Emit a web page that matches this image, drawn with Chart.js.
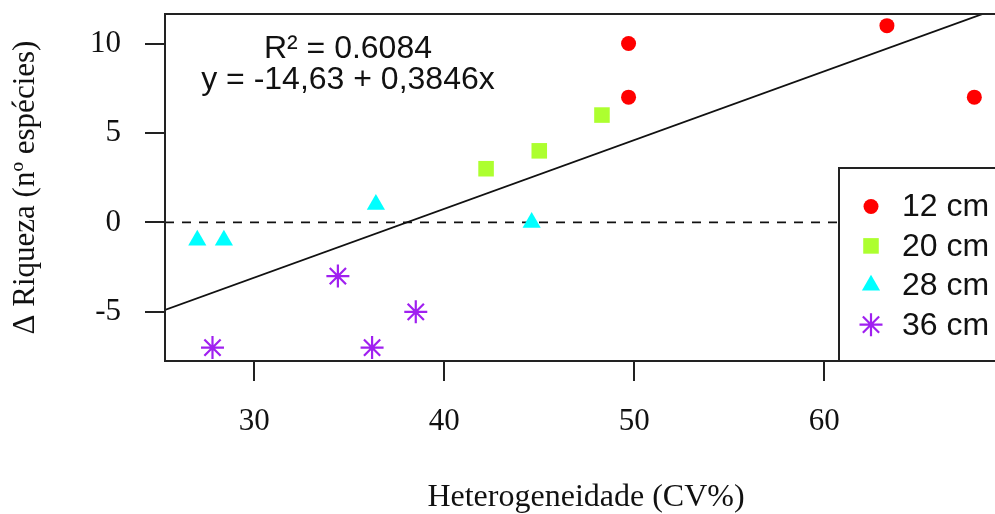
<!DOCTYPE html>
<html><head><meta charset="utf-8">
<script src="https://cdn.jsdelivr.net/npm/chart.js@4"></script>
<style>
html,body{margin:0;padding:0;overflow:hidden;background:#fff;width:995px;height:514px}
#wrap{position:absolute;left:0;top:0;width:1010px;height:514px}
canvas{display:block}
</style>
</head><body><div id="wrap"><canvas id="c" width="1010" height="514" style="width:1010px;height:514px"></canvas></div>
<script>
// ---- data ----
const seriesLabels = ['12 cm', '20 cm', '28 cm', '36 cm'];
const x12 = [49.7, 49.7, 63.3, 67.9];
const y12 = [10, 7, 11, 7];
const x20 = [42.2, 45.0, 48.3];
const y20 = [3, 4, 6];
const x28 = [27.0, 28.4, 36.4, 44.6];
const y28 = [-1, -1, 1, 0];
const x36 = [27.8, 34.4, 36.2, 38.5];
const y36 = [-7, -3, -7, -5];
const xTicks = [30, 40, 50, 60];
const yTicks = [-5, 0, 5, 10];
const fitIntercept = -14.63;
const fitSlope = 0.3846;
const r2Text = 'R\u00B2 = 0.6084';
const eqText = 'y = -14,63 + 0,3846x';
const xTitle = 'Heterogeneidade (CV%)';
const yTitle = '\u0394 Riqueza (n\u00BA esp\u00E9cies)';

// ---- styling / layout ----
const X_MIN = 25.3, X_MAX = 69.62, Y_MIN = -7.75, Y_MAX = 11.65;
const AREA = {left: 165, top: 14, right: 1007, bottom: 361};
const colors = ['#FF0000', '#ADFF2F', '#00FFFF', '#A020F0'];
const styles = ['circle', 'rect', 'triangle', 'star'];
const radii = [7.5, 11, 10.5, 11.5];
const serif = "'Liberation Serif','Times New Roman',serif";
const sans = "'Liberation Sans',Arial,sans-serif";

const pts = (xs, ys) => xs.map((v, i) => ({x: v, y: ys[i]}));
const seriesX = [x12, x20, x28, x36];
const seriesY = [y12, y20, y28, y36];

const scatterSets = seriesLabels.map((lab, i) => ({
  type: 'scatter',
  label: lab,
  data: pts(seriesX[i], seriesY[i]),
  pointStyle: styles[i],
  pointRadius: radii[i],
  pointHoverRadius: radii[i],
  backgroundColor: colors[i],
  borderColor: colors[i],
  borderWidth: styles[i] === 'star' ? 2.2 : 0,
  order: 1
}));

const fitLine = {
  type: 'line',
  label: 'fit',
  data: [X_MIN, X_MAX].map(v => ({x: v, y: fitIntercept + fitSlope * v})),
  borderColor: '#111',
  borderWidth: 1.8,
  pointRadius: 0,
  fill: false,
  order: 2
};
const zeroLine = {
  type: 'line',
  label: 'zero',
  data: [{x: X_MIN, y: 0}, {x: X_MAX, y: 0}],
  borderColor: '#111',
  borderWidth: 1.8,
  borderDash: [9, 8],
  pointRadius: 0,
  fill: false,
  order: 2
};

const ANNOT_X = 34.93, R2_Y = 9.18, EQ_Y = 7.47;

function drawMarker(ctx, style, r, x, y) {
  ctx.beginPath();
  if (style === 'circle') {
    ctx.arc(x, y, r, 0, Math.PI * 2); ctx.fill();
  } else if (style === 'rect') {
    const s = Math.SQRT1_2 * r; ctx.fillRect(x - s, y - s, 2 * s, 2 * s);
  } else if (style === 'triangle') {
    for (let k = 0; k < 3; k++) {
      const ang = k * 2 * Math.PI / 3;
      const px = x + Math.sin(ang) * r, py = y - Math.cos(ang) * r;
      k ? ctx.lineTo(px, py) : ctx.moveTo(px, py);
    }
    ctx.closePath(); ctx.fill();
  } else {
    for (let k = 0; k < 4; k++) {
      const ang = k * Math.PI / 4;
      ctx.moveTo(x - Math.cos(ang) * r, y - Math.sin(ang) * r);
      ctx.lineTo(x + Math.cos(ang) * r, y + Math.sin(ang) * r);
    }
    ctx.stroke();
  }
}

// force the plotting region to the reference's frame (right edge lies past the window)
const pinArea = {
  id: 'pinArea',
  afterLayout(chart) {
    const a = chart.chartArea;
    Object.assign(a, AREA);
    a.width = AREA.right - AREA.left;
    a.height = AREA.bottom - AREA.top;
    const sx = chart.scales.x, sy = chart.scales.y;
    sx.left = AREA.left; sx.right = AREA.right; sx.width = AREA.right - AREA.left;
    sx.top = AREA.bottom; sx.bottom = 514; sx.height = 514 - AREA.bottom;
    sy.top = AREA.top; sy.bottom = AREA.bottom; sy.height = AREA.bottom - AREA.top;
    sy.left = 0; sy.right = AREA.left; sy.width = AREA.left;
    sx.configure(); sy.configure();
  }
};

const decor = {
  id: 'decor',
  afterDatasetsDraw(chart) {
    const {ctx, chartArea: a, scales} = chart;
    ctx.save();
    ctx.strokeStyle = '#222';
    ctx.lineWidth = 2;
    ctx.strokeRect(a.left, a.top, a.right - a.left, a.bottom - a.top);
    ctx.fillStyle = '#111';
    ctx.font = '32px ' + sans;
    ctx.textAlign = 'center';
    ctx.textBaseline = 'alphabetic';
    const ax = scales.x.getPixelForValue(ANNOT_X);
    ctx.fillText(r2Text, ax, scales.y.getPixelForValue(R2_Y));
    ctx.fillText(eqText, ax, scales.y.getPixelForValue(EQ_Y));
    const bw = 168, bh = 193;
    const bx = a.right - bw, by = a.bottom - bh;
    ctx.fillStyle = '#fff';
    ctx.fillRect(bx, by, bw, bh);
    ctx.strokeStyle = '#222';
    ctx.lineWidth = 2;
    ctx.strokeRect(bx, by, bw, bh);
    ctx.font = '32px ' + sans;
    ctx.textAlign = 'left';
    ctx.textBaseline = 'middle';
    seriesLabels.forEach((lab, i) => {
      const ry = by + 38.5 + i * 39.4;
      ctx.fillStyle = colors[i];
      ctx.strokeStyle = colors[i];
      ctx.lineWidth = 2.2;
      drawMarker(ctx, styles[i], radii[i], bx + 32, ry);
      ctx.fillStyle = '#111';
      ctx.fillText(lab, bx + 63, ry + 1);
    });
    ctx.restore();
  }
};

new Chart(document.getElementById('c'), {
  data: {datasets: [...scatterSets, fitLine, zeroLine]},
  options: {
    responsive: false,
    animation: false,
    events: [],
    layout: {padding: {top: 14, right: 3, bottom: 0, left: 0}},
    plugins: {legend: {display: false}, tooltip: {enabled: false}},
    scales: {
      x: {
        type: 'linear', min: X_MIN, max: X_MAX,
        afterBuildTicks: s => { s.ticks = xTicks.map(v => ({value: v})); },
        afterFit: s => { s.height = 153; s.paddingLeft = 0; s.paddingRight = 0; },
        grid: {drawOnChartArea: false, drawTicks: true, tickLength: 20, color: '#222', lineWidth: 2},
        border: {display: false},
        ticks: {color: '#111', font: {family: serif, size: 31}, padding: 22, maxRotation: 0, autoSkip: false},
        title: {display: true, text: xTitle, color: '#111', font: {family: serif, size: 32, lineHeight: 1}, padding: {top: 0, bottom: 0}}
      },
      y: {
        type: 'linear', min: Y_MIN, max: Y_MAX,
        afterBuildTicks: s => { s.ticks = yTicks.map(v => ({value: v})); },
        afterFit: s => { s.width = 165; s.paddingTop = 0; s.paddingBottom = 0; },
        grid: {drawOnChartArea: false, drawTicks: true, tickLength: 20, color: '#222', lineWidth: 2},
        border: {display: false},
        ticks: {color: '#111', font: {family: serif, size: 31}, padding: 24, autoSkip: false},
        title: {display: true, text: yTitle, color: '#111', font: {family: serif, size: 31, lineHeight: 1}, padding: {top: 10, bottom: 0}}
      }
    }
  },
  plugins: [pinArea, decor]
});
</script>
</body></html>
